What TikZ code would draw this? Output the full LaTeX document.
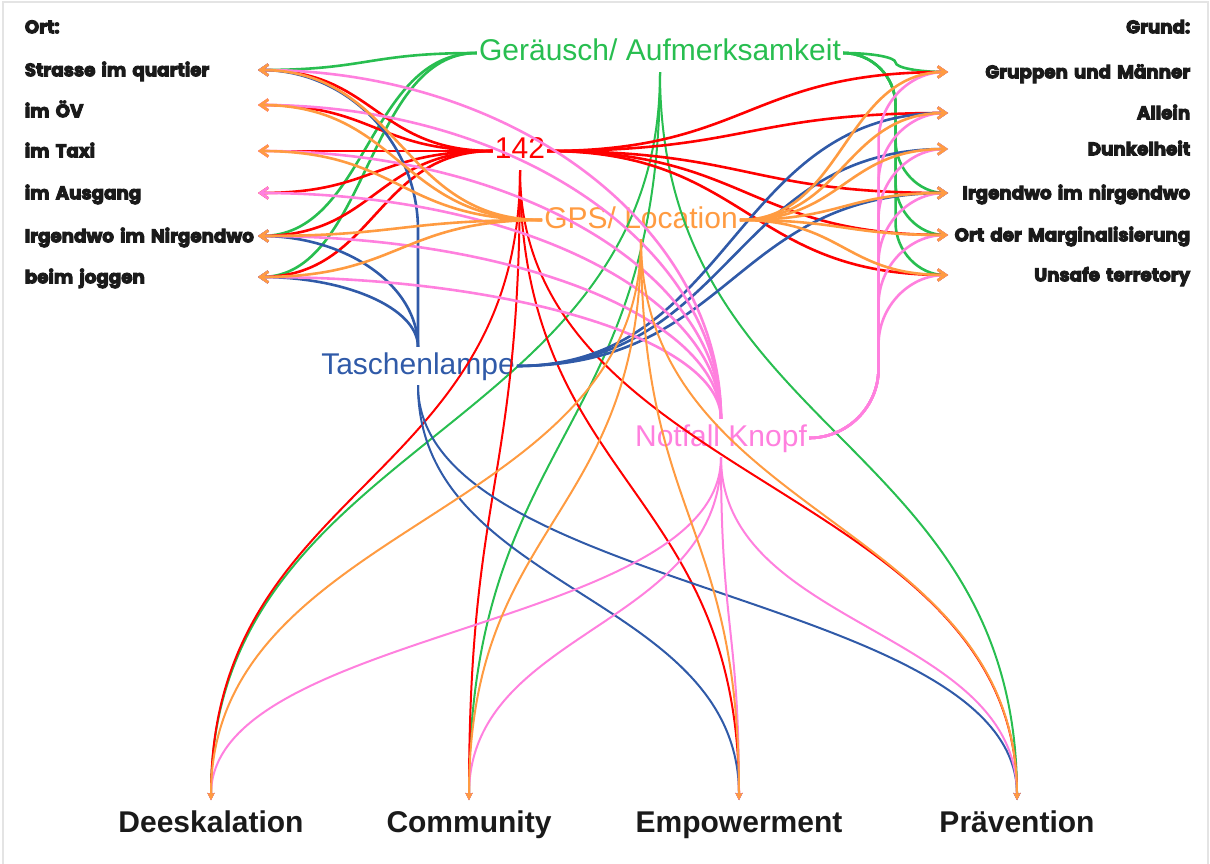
\documentclass[tikz,border=0pt]{standalone}
\usepackage{fontspec}
\setmainfont{Liberation Sans}
\newfontfamily\ortfont{Poppins}[BoldFeatures={FakeBold=5}]
\usetikzlibrary{arrows.meta,calc}
\definecolor{gruen}{RGB}{40,190,80}
\definecolor{rot}{RGB}{255,0,0}
\definecolor{orng}{RGB}{255,155,65}
\definecolor{blau}{RGB}{48,90,168}
\definecolor{rosa}{RGB}{255,128,222}
\definecolor{schrift}{RGB}{26,26,26}
\definecolor{rahmen}{RGB}{228,228,228}
\begin{document}
\begin{tikzpicture}[x=1pt,y=-1pt,
  ort/.style={font=\ortfont\bfseries\fontsize{18.3}{20}\selectfont,text=schrift,text width=231pt,align=left,text height=12.6pt,text depth=0pt,inner xsep=2pt,inner ysep=2pt,anchor=east},
  grund/.style={ort,text width=240pt,align=right,anchor=west},
  hub/.style={font=\fontsize{30}{32}\selectfont,inner xsep=2pt,inner ysep=0pt,text height=22pt,text depth=6pt,minimum height=38pt},
  ziel/.style={font=\bfseries\fontsize{30}{32}\selectfont,text=schrift,text height=21.5pt,text depth=0pt,inner ysep=11pt},
  hflow/.style={to path={let \p1=(\tikztostart),\p2=(\tikztotarget) in .. controls ({(\x1+\x2)/2},\y1) and ({(\x1+\x2)/2},\y2) .. (\tikztotarget) \tikztonodes}},
  vflow/.style={to path={let \p1=(\tikztostart),\p2=(\tikztotarget) in .. controls (\x1,{(\y1+\y2)/2}) and (\x2,{(\y1+\y2)/2}) .. (\tikztotarget) \tikztonodes}},
  bund/.style={to path={let \p1=(\tikztostart),\p2=(\tikztotarget),\n1={(\x2-\x1)/2},\n2={min(abs(\y2-\y1)/2,abs(\x2-\x1)/2)*sign(\y2-\y1)} in
    .. controls ({\x1+0.552*\n1*1pt},\y1) and ({\x1+\n1*1pt},{\y1+0.448*\n2*1pt}) .. ({\x1+\n1*1pt},{\y1+\n2*1pt})
    -- ({\x1+\n1*1pt},{\y2-\n2*1pt})
    .. controls ({\x1+\n1*1pt},{\y2-0.448*\n2*1pt}) and ({\x2-0.552*\n1*1pt},\y2) .. (\tikztotarget) \tikztonodes}},
  ecke/.style={to path={let \p1=(\tikztostart),\p2=(\tikztotarget),\n1={\x2-\x1},\n2={min(abs(\y2-\y1),abs(\x2-\x1))*sign(\y2-\y1)} in
    -- (\x1,{\y2-\n2*1pt})
    .. controls (\x1,{\y2-0.448*\n2*1pt}) and ({\x2-0.552*\n1*1pt},\y2) .. (\tikztotarget) \tikztonodes}},
  seite/.style={line width=2.6pt,-{Straight Barb[length=8pt,width=11pt]}},
  unten/.style={line width=2pt,-{Stealth[length=7pt,width=7pt,inset=1pt]}}]
\useasboundingbox (0,0) rectangle (1210,864);
\draw[rahmen,line width=2pt] (3,864) -- (3,2) -- (1208,2) -- (1208,864);

\node[ort] (ort) at (258,27) {Ort:};
\node[ort] (strasse) at (258,70) {Strasse im quartier};
\node[ort,text height=24.6pt] (oev) at (258,105) {im ÖV};
\node[ort] (taxi) at (258,151) {im Taxi};
\node[ort] (ausgang) at (258,193) {im Ausgang};
\node[ort] (irgendwo) at (258,236) {Irgendwo im Nirgendwo};
\node[ort] (joggen) at (258,277) {beim joggen};

\node[grund] (grund) at (948,27) {Grund:};
\node[grund] (gruppen) at (948,72) {Gruppen und Männer};
\node[grund] (allein) at (948,113) {Allein};
\node[grund] (dunkel) at (948,149) {Dunkelheit};
\node[grund] (nirgendwo) at (948,193) {Irgendwo im nirgendwo};
\node[grund] (marg) at (948,235) {Ort der Marginalisierung};
\node[grund] (unsafe) at (948,275) {Unsafe terretory};

\node[ziel] (deesk) at (211,822) {Deeskalation};
\node[ziel] (comm) at (469,822) {Community};
\node[ziel] (empow) at (739,822) {Empowerment};
\node[ziel] (praev) at (1017,822) {Prävention};

\node[hub,text=gruen] (geraeusch) at (660,53) {Geräusch/ Aufmerksamkeit};
\node[hub,text=rot] (nr) at (520,151) {142};
\node[hub,text=orng] (gps) at (641,220) {GPS/ Location};
\node[hub,text=blau] (lampe) at (418,366) {Taschenlampe};
\node[hub,text=rosa] (knopf) at (721,438) {Notfall Knopf};

\draw[gruen,seite] (geraeusch.west) to[hflow] (strasse.east);
\draw[gruen,seite] (geraeusch.west) to[hflow] (irgendwo.east);
\draw[gruen,seite] (geraeusch.west) to[hflow] (joggen.east);
\draw[gruen,seite] (geraeusch.east) to[bund] (gruppen.west);
\draw[gruen,seite] (geraeusch.east) to[bund] (nirgendwo.west);
\draw[gruen,seite] (geraeusch.east) to[bund] (marg.west);
\draw[gruen,seite] (geraeusch.east) to[bund] (unsafe.west);
\draw[gruen,unten] (geraeusch.south) to[vflow] (deesk.north);
\draw[gruen,unten] (geraeusch.south) to[vflow] (comm.north);
\draw[gruen,unten] (geraeusch.south) to[vflow] (praev.north);

\draw[rot,seite] (nr.west) to[hflow] (strasse.east);
\draw[rot,seite] (nr.west) to[hflow] (oev.east);
\draw[rot,seite] (nr.west) to[hflow] (taxi.east);
\draw[rot,seite] (nr.west) to[hflow] (ausgang.east);
\draw[rot,seite] (nr.west) to[hflow] (irgendwo.east);
\draw[rot,seite] (nr.west) to[hflow] (joggen.east);
\draw[rot,seite] (nr.east) to[hflow] (gruppen.west);
\draw[rot,seite] (nr.east) to[hflow] (allein.west);
\draw[rot,seite] (nr.east) to[hflow] (nirgendwo.west);
\draw[rot,seite] (nr.east) to[hflow] (marg.west);
\draw[rot,seite] (nr.east) to[hflow] (unsafe.west);
\draw[rot,unten] (nr.south) to[vflow] (deesk.north);
\draw[rot,unten] (nr.south) to[vflow] (comm.north);
\draw[rot,unten] (nr.south) to[vflow] (empow.north);
\draw[rot,unten] (nr.south) to[vflow] (praev.north);

\draw[blau,seite] (lampe.north) to[ecke] (strasse.east);
\draw[blau,seite] (lampe.north) to[ecke] (irgendwo.east);
\draw[blau,seite] (lampe.north) to[ecke] (joggen.east);
\draw[blau,seite] (lampe.east) to[hflow] (allein.west);
\draw[blau,seite] (lampe.east) to[hflow] (dunkel.west);
\draw[blau,seite] (lampe.east) to[hflow] (nirgendwo.west);
\draw[blau,unten] (lampe.south) to[vflow] (empow.north);
\draw[blau,unten] (lampe.south) to[vflow] (praev.north);

\draw[rosa,seite] (knopf.north) to[ecke] (strasse.east);
\draw[rosa,seite] (knopf.north) to[ecke] (oev.east);
\draw[rosa,seite] (knopf.north) to[ecke] (taxi.east);
\draw[rosa,seite] (knopf.north) to[ecke] (ausgang.east);
\draw[rosa,seite] (knopf.north) to[ecke] (irgendwo.east);
\draw[rosa,seite] (knopf.north) to[ecke] (joggen.east);
\draw[rosa,seite] (knopf.east) to[bund] (gruppen.west);
\draw[rosa,seite] (knopf.east) to[bund] (allein.west);
\draw[rosa,seite] (knopf.east) to[bund] (dunkel.west);
\draw[rosa,seite] (knopf.east) to[bund] (nirgendwo.west);
\draw[rosa,seite] (knopf.east) to[bund] (marg.west);
\draw[rosa,seite] (knopf.east) to[bund] (unsafe.west);
\draw[rosa,unten] (knopf.south) to[vflow] (deesk.north);
\draw[rosa,unten] (knopf.south) to[vflow] (comm.north);
\draw[rosa,unten] (knopf.south) to[vflow] (empow.north);
\draw[rosa,unten] (knopf.south) to[vflow] (praev.north);

\draw[orng,seite] (gps.west) to[hflow] (strasse.east);
\draw[orng,seite] (gps.west) to[hflow] (oev.east);
\draw[orng,seite] (gps.west) to[hflow] (taxi.east);
\draw[orng,seite] (gps.west) to[hflow] (irgendwo.east);
\draw[orng,seite] (gps.west) to[hflow] (joggen.east);
\draw[orng,seite] (gps.east) to[hflow] (gruppen.west);
\draw[orng,seite] (gps.east) to[hflow] (allein.west);
\draw[orng,seite] (gps.east) to[hflow] (dunkel.west);
\draw[orng,seite] (gps.east) to[hflow] (nirgendwo.west);
\draw[orng,seite] (gps.east) to[hflow] (marg.west);
\draw[orng,seite] (gps.east) to[hflow] (unsafe.west);
\draw[orng,unten] (gps.south) to[vflow] (deesk.north);
\draw[orng,unten] (gps.south) to[vflow] (comm.north);
\draw[orng,unten] (gps.south) to[vflow] (empow.north);
\draw[orng,unten] (gps.south) to[vflow] (praev.north);
\end{tikzpicture}
\end{document}
